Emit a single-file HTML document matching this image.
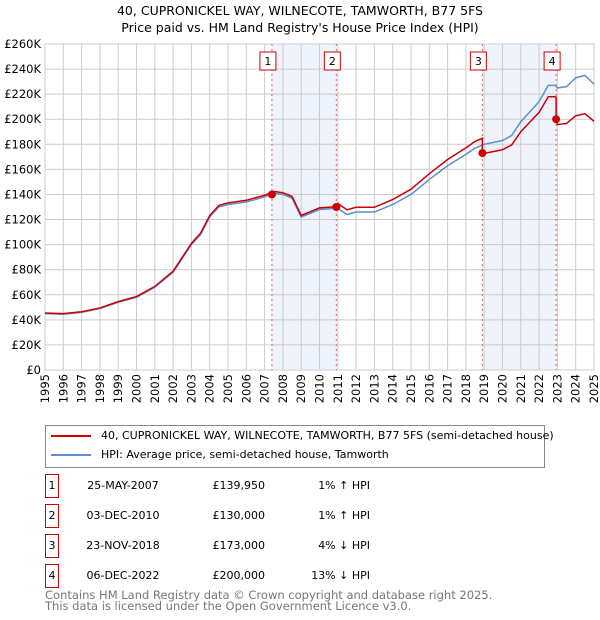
<!DOCTYPE html>
<html><head><meta charset="utf-8">
<style>
body{margin:0;background:#fff;font-family:"DejaVu Sans","Liberation Sans",sans-serif;}
#wrap{position:relative;width:600px;height:620px;overflow:hidden;}
.t{position:absolute;font-size:11px;color:#000;white-space:nowrap;}
.box{position:absolute;left:45px;width:12px;height:22px;border:1px solid #c00;font-size:11px;text-align:center;line-height:22px;}
</style></head><body>
<div id="wrap">
<div class="t" style="left:0;width:600px;text-align:center;top:2px;font-size:12.5px;line-height:17px;">40, CUPRONICKEL WAY, WILNECOTE, TAMWORTH, B77 5FS<br>Price paid vs. HM Land Registry's House Price Index (HPI)</div>
<svg id="chart" width="600" height="420" style="position:absolute;left:0;top:0;font-family:'DejaVu Sans',sans-serif"></svg>
<div style="position:absolute;left:45px;top:425px;width:498px;height:41px;border:1px solid #888;font-size:11px;">
 <div style="position:absolute;left:5px;top:9px;width:40px;height:2px;background:#c00"></div>
 <div class="t" style="left:55px;top:3px">40, CUPRONICKEL WAY, WILNECOTE, TAMWORTH, B77 5FS (semi-detached house)</div>
 <div style="position:absolute;left:5px;top:28px;width:40px;height:2px;background:#5b8fd0"></div>
 <div class="t" style="left:55px;top:22px">HPI: Average price, semi-detached house, Tamworth</div>
</div>
<div id="table"></div>
<div class="t" style="left:45px;top:590px;color:#777;font-size:11.5px;line-height:11px;">Contains HM Land Registry data © Crown copyright and database right 2025.<br>This data is licensed under the Open Government Licence v3.0.</div>
</div>
<script>
const hpiYears=[1995,1996,1997,1998,1999,2000,2001,2002,2003,2003.5,2004,2004.5,2005,2006,2007,2007.5,2008,2008.5,2009,2009.5,2010,2011,2011.5,2012,2013,2014,2015,2016,2017,2018,2018.5,2019,2020,2020.5,2021,2021.5,2022,2022.5,2022.9,2023,2023.5,2024,2024.5,2025];
const hpiValues=[45,44.5,46,49,54,58,66,78,100,108,122,130,132,134,138,141,140,137,122,125,128,129,124,126,126,132,140,152,163,172,177,180,183,187,198,206,214,227,227,225,226,233,235,228];
const saleDates=[2007.4,2010.92,2018.9,2022.93];
const salePrices=[139.95,130,173,200];
const saleLabels=["25-MAY-2007","03-DEC-2010","23-NOV-2018","06-DEC-2022"];
const salePriceText=["£139,950","£130,000","£173,000","£200,000"];
const saleHpiText=["1% ↑ HPI","1% ↑ HPI","4% ↓ HPI","13% ↓ HPI"];
const redFactors=[1.01,1.01,1.03,0.96,0.87];
const yTicks=[0,20,40,60,80,100,120,140,160,180,200,220,240,260];
const xTicks=[1995,1996,1997,1998,1999,2000,2001,2002,2003,2004,2005,2006,2007,2008,2009,2010,2011,2012,2013,2014,2015,2016,2017,2018,2019,2020,2021,2022,2023,2024,2025];

const L=45,R=594,T=44,B=370;
const x=v=>L+(v-1995)/30*(R-L);
const y=v=>B-v/260*(B-T);
const svg=document.getElementById('chart');
const NS='http://www.w3.org/2000/svg';
function mk(tag,attrs,parent){const e=document.createElementNS(NS,tag);for(const k in attrs)e.setAttribute(k,attrs[k]);(parent||svg).appendChild(e);return e;}
for(const [a,b] of [[0,1],[2,3]]){
 const r=mk('rect',{x:x(saleDates[a]),y:T,width:x(saleDates[b])-x(saleDates[a]),height:B-T,fill:'#eef3fc'});
 
 
}
yTicks.forEach(v=>{
 const l=mk('line',{x1:L,x2:R,y1:y(v),y2:y(v),stroke:'#ccc','stroke-width':1});
 
 
 const t=mk('text',{x:L-4,y:y(v)+4,'text-anchor':'end','font-size':11.5,fill:'#000'});
 t.textContent=v===0?'£0':'£'+v+'K';
 
 
});
xTicks.forEach(v=>{
 const l=mk('line',{x1:x(v),x2:x(v),y1:T,y2:B,stroke:'#ccc','stroke-width':1});
 
 
 const t=mk('text',{x:0,y:0,'text-anchor':'end','font-size':11.5,fill:'#000',transform:`translate(${x(v)+4},${B+4}) rotate(-90)`});
 t.textContent=v;
 
 
});
mk('rect',{x:L,y:T,width:R-L,height:B-T,fill:'none',stroke:'#ccc'});
saleDates.forEach((d,i)=>{
 const l=mk('line',{x1:x(d),x2:x(d),y1:T,y2:B,stroke:'#e06060','stroke-dasharray':'2,3','stroke-width':1});
 
 
 const r=mk('rect',{x:x(d)-12,y:52,width:16,height:18,fill:'#fff',stroke:'#c00'});
 
 
 const t=mk('text',{x:x(d)-4,y:65,'text-anchor':'middle','font-size':11});
 t.textContent=i+1;
 
 
});
const hp=hpiYears.map((v,i)=>x(v)+','+y(hpiValues[i])).join(' ');
const hl=mk('polyline',{points:hp,fill:'none',stroke:'#5b8fd0','stroke-width':1.5});


function seg(v){let s=0;for(const d of saleDates)if(v>=d)s++;return s;}
function hpiAt(v){for(let i=1;i<hpiYears.length;i++)if(v<=hpiYears[i]){const f=(v-hpiYears[i-1])/(hpiYears[i]-hpiYears[i-1]);return hpiValues[i-1]+f*(hpiValues[i]-hpiValues[i-1]);}return hpiValues[hpiValues.length-1];}
const pts=[];
const allX=hpiYears.concat(saleDates).sort((a,b)=>a-b);
allX.forEach(v=>{
 const si=saleDates.indexOf(v);
 if(si>=0){pts.push([v,hpiAt(v)*redFactors[si]]);pts.push([v,salePrices[si]]);}
 else pts.push([v,hpiAt(v)*redFactors[seg(v)]]);
});
const rl=mk('polyline',{points:pts.map(p=>x(p[0])+','+y(p[1])).join(' '),fill:'none',stroke:'#c00','stroke-width':1.5});


saleDates.forEach((d,i)=>{
 const c=mk('circle',{cx:x(d),cy:y(salePrices[i]),r:4,fill:'#c00'});
 
 
});
const tb=document.getElementById('table');
saleDates.forEach((d,i)=>{
 const top=474+i*30;
 const row=document.createElement('div');
 
 
 row.innerHTML=`<div class="box" style="top:${top}px">${i+1}</div>
 <div class="t" style="left:83px;top:${top+5}px;width:80px;text-align:center">${saleLabels[i]}</div>
 <div class="t" style="left:195px;top:${top+5}px;width:70px;text-align:right">${salePriceText[i]}</div>
 <div class="t" style="left:290px;top:${top+5}px;width:80px;text-align:right">${saleHpiText[i]}</div>`;
 tb.appendChild(row);
});
</script>
</body></html>
